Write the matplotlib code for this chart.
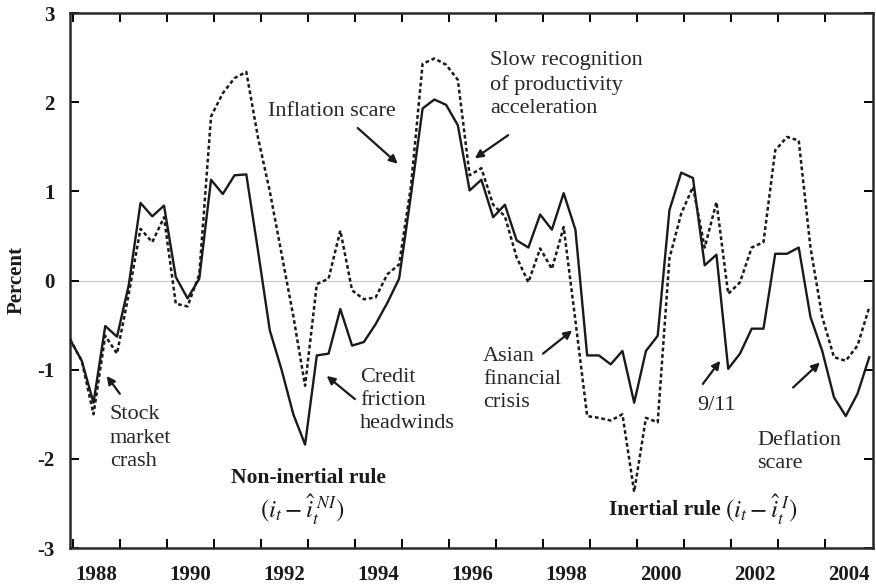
import numpy as np
import matplotlib.pyplot as plt

plt.rcParams['font.family'] = ['Liberation Serif', 'DejaVu Serif']
plt.rcParams['mathtext.fontset'] = 'stix'
plt.rcParams['axes.unicode_minus'] = False

# quarterly policy-rule residuals, percent
non_inertial = [-0.66, -0.90, -1.37, -0.51, -0.63, -0.05, 0.87, 0.72, 0.84, 0.04,
                -0.20, 0.02, 1.13, 0.97, 1.18, 1.19, 0.33, -0.56, -1.00, -1.50,
                -1.84, -0.84, -0.82, -0.32, -0.73, -0.69, -0.49, -0.25, 0.02, 0.95,
                1.93, 2.03, 1.97, 1.74, 1.01, 1.13, 0.71, 0.85, 0.45, 0.37,
                0.74, 0.57, 0.98, 0.57, -0.84, -0.84, -0.94, -0.79, -1.37, -0.79,
                -0.62, 0.79, 1.21, 1.15, 0.17, 0.29, -0.99, -0.82, -0.54, -0.54,
                0.30, 0.30, 0.37, -0.41, -0.79, -1.31, -1.52, -1.27, -0.86]
inertial = [-0.66, -0.90, -1.50, -0.62, -0.82, -0.15, 0.58, 0.43, 0.71, -0.26,
            -0.29, 0.07, 1.84, 2.10, 2.27, 2.34, 1.60, 1.00, 0.30, -0.40,
            -1.18, -0.04, 0.02, 0.56, -0.11, -0.21, -0.19, 0.07, 0.18, 1.05,
            2.43, 2.49, 2.42, 2.25, 1.18, 1.26, 0.85, 0.72, 0.26, -0.02,
            0.36, 0.13, 0.60, -0.45, -1.52, -1.54, -1.57, -1.50, -2.37, -1.54,
            -1.59, 0.25, 0.75, 1.05, 0.37, 0.88, -0.15, -0.02, 0.37, 0.43,
            1.46, 1.61, 1.57, 0.37, -0.41, -0.86, -0.90, -0.73, -0.30]
year_labels = [1988, 1990, 1992, 1994, 1996, 1998, 2000, 2002, 2004]

x0 = 1987.94
quarters = x0 + 0.25 * np.arange(len(non_inertial))

ink = '#1a1a1a'
fig = plt.figure(figsize=(8.76, 5.86), dpi=100)
ax = fig.add_axes([0.0799, 0.0648, 0.9167, 0.913])

ax.axhline(0, color='#c8c8c8', lw=0.8, zorder=1)
ax.plot(quarters, non_inertial, color=ink, lw=1.7, zorder=3)
ax.plot(quarters, inertial, color=ink, lw=1.8, linestyle=(0, (1.5, 1.1)), zorder=2)

ax.set_xlim(x0, 2005.02)
ax.set_ylim(-3, 3)

# year boundaries as ticks, labels centred inside the year
ax.set_xticks(np.arange(1988, 2005))
ax.set_xticklabels([])
ax.set_xticks([y + 0.5 for y in year_labels], minor=True)
ax.set_xticklabels([str(y) for y in year_labels], minor=True)
ax.tick_params(axis='x', which='major', direction='in', length=6.5, width=1.4,
               top=True, bottom=True)
ax.tick_params(axis='x', which='minor', length=0, pad=12, labelsize=15)
ax.set_yticks(np.arange(-3, 4))
ax.tick_params(axis='y', direction='in', length=6.5, width=1.4, right=True,
               labelsize=15, pad=11)
for lab in ax.get_xticklabels(minor=True) + ax.get_yticklabels():
    lab.set_fontweight('bold')
    lab.set_color(ink)
for s in ax.spines.values():
    s.set_linewidth(1.8)
    s.set_color('#2a2a2a')

fig.text(0.019, 0.522, 'Percent', rotation=90, ha='center', va='center',
         fontsize=15, fontweight='bold', color=ink)

arrow = dict(arrowstyle='-|>', color=ink, lw=1.6, mutation_scale=12,
             shrinkA=0, shrinkB=0)
tk = dict(fontsize=16, color='#262626', linespacing=1.3)

ax.text(1988.79, -1.40, 'Stock\nmarket\ncrash', va='top', ha='left', **tk)
ax.annotate('', xy=(1988.72, -1.07), xytext=(1989.0, -1.27), arrowprops=arrow)

ax.text(1994.11, -0.98, 'Credit\nfriction\nheadwinds', va='top', ha='left', **tk)
ax.annotate('', xy=(1993.40, -1.07), xytext=(1994.0, -1.33), arrowprops=arrow)

ax.text(1992.15, 1.90, 'Inflation scare', va='center', ha='left', **tk)
ax.annotate('', xy=(1994.91, 1.31), xytext=(1994.06, 1.71), arrowprops=arrow)

ax.text(1996.87, 2.57, 'Slow recognition\nof productivity\nacceleration',
        va='top', ha='left', **tk)
ax.annotate('', xy=(1996.55, 1.37), xytext=(1997.26, 1.63), arrowprops=arrow)

ax.text(1996.72, -0.74, 'Asian\nfinancial\ncrisis', va='top', ha='left', **tk)
ax.annotate('', xy=(1998.62, -0.56), xytext=(1998.0, -0.82), arrowprops=arrow)

ax.text(2001.28, -1.40, '9/11', va='center', ha='left', **tk)
ax.annotate('', xy=(2001.77, -0.90), xytext=(2001.40, -1.16), arrowprops=arrow)

ax.text(2002.55, -1.69, 'Deflation\nscare', va='top', ha='left', **tk)
ax.annotate('', xy=(2003.89, -0.92), xytext=(2003.32, -1.20), arrowprops=arrow)

ax.text(1993.02, -2.21, 'Non-inertial rule', ha='center', va='center',
        fontsize=15.5, fontweight='bold', color=ink)
ax.text(1992.87, -2.57, r'$(i_t-\hat{i}_t^{\;NI})$', ha='center', va='center',
        fontsize=18, color=ink)
ax.text(1999.40, -2.57, 'Inertial rule', ha='left', va='center',
        fontsize=15.5, fontweight='bold', color=ink)
ax.text(2001.88, -2.57, r'$(i_t-\hat{i}_t^{\;I})$', ha='left', va='center',
        fontsize=18, color=ink)

fig.savefig('out.png', dpi=100, facecolor='white')
